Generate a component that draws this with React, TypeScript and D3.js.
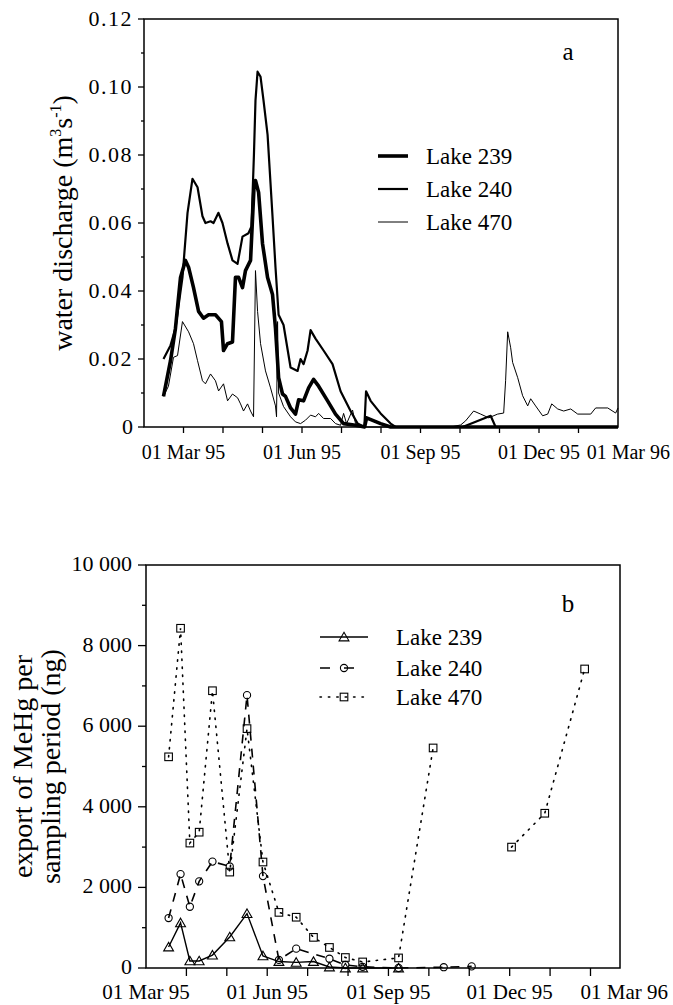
import React from "react";
import * as d3 from "d3";

const FONT = "'Liberation Serif', 'Times New Roman', Times, serif";

// panel a: water discharge, [days since 01 Mar 95, m3/s]
const lake239Q: [number, number][] = [
  [-15.4, 0.009], [-10, 0.0195], [-6.2, 0.029], [-2.3, 0.044], [1.5, 0.049], [3.9, 0.047],
  [7.7, 0.041], [11.6, 0.034], [15.4, 0.032], [19.3, 0.033], [24.6, 0.033], [29.2, 0.031],
  [30.8, 0.0225], [33.9, 0.0245], [37.7, 0.025], [40, 0.044], [42.4, 0.044], [45.4, 0.041],
  [47.7, 0.046], [51.6, 0.049], [54.2, 0.07], [55.4, 0.0725], [57.8, 0.069], [60.8, 0.054],
  [64.7, 0.044], [68.5, 0.039], [70.8, 0.029], [73.2, 0.0145], [76.2, 0.0097], [78.5, 0.009],
  [82.4, 0.0056], [86.2, 0.0038], [88.6, 0.008], [92.4, 0.0077], [96.3, 0.0115], [100.1, 0.014],
  [104, 0.012], [110.9, 0.0077], [117, 0.0038], [123.2, 0.001], [132.4, 0.0005], [139.4, 0],
  [140.9, 0.0027], [151.7, 0.001], [159.4, 0], [334.4, 0],
];

const lake240Q: [number, number][] = [
  [-15.4, 0.02], [-10, 0.024], [-6.2, 0.029], [-0.8, 0.044], [3.1, 0.063], [6.9, 0.073],
  [10.8, 0.0705], [14.6, 0.062], [16.9, 0.06], [20.8, 0.0605], [23.1, 0.06], [26.9, 0.063],
  [30, 0.06], [33.9, 0.054], [37.7, 0.049], [41.6, 0.048], [45.4, 0.056], [50, 0.057],
  [52.3, 0.059], [54.2, 0.08], [55.4, 0.096], [57, 0.1045], [59.3, 0.103], [61.6, 0.096],
  [64.7, 0.086], [68.5, 0.062], [70.8, 0.047], [73.2, 0.033], [77, 0.03], [82.4, 0.0175],
  [87.8, 0.0165], [90.1, 0.02], [92.4, 0.0185], [95.5, 0.0225], [97.8, 0.0285], [101.6, 0.026],
  [107.8, 0.0225], [114.7, 0.0185], [120.9, 0.0105], [128.6, 0.0047], [134, 0.001], [139.2, 0],
  [140.5, 0.0105], [144, 0.0077], [151.7, 0.004], [159.4, 0.001], [163.2, 0], [214.8, 0],
  [236.4, 0.0033], [240.2, 0], [334.4, 0],
];

const lake470Q: [number, number][] = [
  [-15.4, 0.009], [-11.6, 0.012], [-7.7, 0.0205], [-4.6, 0.021], [-0.8, 0.031], [3.9, 0.028],
  [7.7, 0.0245], [10.8, 0.0195], [14.6, 0.0136], [16.9, 0.0127], [20.8, 0.0156], [24.6, 0.0136],
  [27, 0.0106], [30.8, 0.0127], [33.9, 0.0077], [37.7, 0.0097], [41.6, 0.0086], [43.9, 0.0068],
  [46.2, 0.0047], [49.3, 0.0068], [51.6, 0.0047], [53.9, 0.003], [55.4, 0.046], [57, 0.034],
  [59.3, 0.0245], [63.1, 0.0165], [67, 0.0115], [70.8, 0.0062], [71.6, 0.003], [72.4, 0.031],
  [73.2, 0.01], [77, 0.006], [82.4, 0.003], [86.2, 0.0015], [90.1, 0.001], [93.9, 0.002],
  [97.8, 0.0035], [101.6, 0.003], [104, 0.004], [107.8, 0.0025], [113.2, 0.0025], [117, 0.001],
  [120.9, 0.0005], [123.2, 0.004], [125.5, 0.001], [130.1, 0.005], [132.4, 0.001], [137.8, 0],
  [205.6, 0], [213.3, 0.0006], [217.1, 0.0018], [223.3, 0.0047], [228.7, 0.0038], [234.9, 0.0027],
  [241.8, 0.0038], [246.4, 0.0041], [247.9, 0.0136], [249.5, 0.028], [251.8, 0.0233], [253.3, 0.019],
  [257.2, 0.0145], [261, 0.0092], [264.9, 0.0062], [267.2, 0.0083], [271, 0.0062], [276.4, 0.0033],
  [280.3, 0.0038], [283.4, 0.0068], [288, 0.0053], [292.6, 0.0047], [298, 0.0053], [303.4, 0.0038],
  [313.4, 0.0038], [317.2, 0.0056], [326.5, 0.0056], [332.6, 0.0041], [334.4, 0.0056],
];

// panel b: MeHg export per sampling period (ng)
const lake239Days = [17, 26, 33, 40, 50, 63, 76, 88, 100, 113, 126, 138, 150, 163, 190];
const lake239Export = [520, 1120, 175, 175, 320, 770, 1350, 300, 160, 140, 160, 25, 0, 0, 0];

const lake240Days = [17, 26, 33, 40, 50, 63, 76, 88, 100, 113, 138, 150, 163, 190, 224, 245];
const lake240Export = [1240, 2330, 1520, 2150, 2640, 2520, 6770, 2280, 200, 480, 230, 75, 30, 0, 20, 40];

const lake470Days = [17, 26, 33, 40, 50, 63, 76, 88, 100, 113, 126, 138, 150, 163, 190, 216, 245, 275, 300, 330];
const lake470Export = [5240, 8430, 3100, 3370, 6880, 2380, 5940, 2630, 1380, 1260, 760, 510, 260, 150, 250, 5460, null, 3000, 3840, 7420];

const dateLabels = ["01 Mar 95", "01 Jun 95", "01 Sep 95", "01 Dec 95", "01 Mar 96"];
const labelMonths = [0, 3, 6, 9];
const lakeNames = ["Lake 239", "Lake 240", "Lake 470"];

const MONTH = 30.4;

export default function App() {
  const xA = d3.scaleLinear().domain([-MONTH, 11 * MONTH]).range([144, 618]);
  const yA = d3.scaleLinear().domain([0, 0.12]).range([427, 19]);
  const xB = d3.scaleLinear().domain([0, 356.6]).range([146, 620]);
  const yB = d3.scaleLinear().domain([0, 10000]).range([968, 565]);

  const lineA = d3.line<[number, number]>().x(d => xA(d[0])).y(d => yA(d[1]));
  const lineB = d3
    .line<{ d: number; v: number | null }>()
    .defined(p => p.v != null)
    .x(p => xB(p.d))
    .y(p => yB(p.v as number));

  const pts = (days: number[], vals: (number | null)[]) => days.map((d, i) => ({ d, v: vals[i] }));
  const s239 = pts(lake239Days, lake239Export);
  const s240 = pts(lake240Days, lake240Export);
  const s470 = pts(lake470Days, lake470Export);

  const tri = d3.symbol(d3.symbolTriangle, 42)()!;
  const fmtA = (v: number) => (v === 0 ? "0" : d3.format(".2f")(v));
  const fmtB = (v: number) => d3.format(",")(v).replace(",", " ");

  const [a0, a1] = yA.range();
  const [b0, b1] = yB.range();

  const triMark = (x: number, y: number, k: string) => (
    <path key={k} d={tri} transform={`translate(${x},${y + 1})`} fill="none" stroke="#000" strokeWidth={1.1} />
  );
  const circMark = (x: number, y: number, k: string) => (
    <circle key={k} cx={x} cy={y} r={3.6} fill="none" stroke="#000" strokeWidth={1.1} />
  );
  const sqMark = (x: number, y: number, k: string) => (
    <rect key={k} x={x - 3.8} y={y - 3.8} width={7.6} height={7.6} fill="none" stroke="#000" strokeWidth={1.1} />
  );

  return (
    <svg
      width={673}
      height={1005}
      fontFamily={FONT}
      style={{ position: "absolute", left: 0, top: 0, background: "#fff" }}
    >
      {/* ---------- panel a ---------- */}
      <g>
        <rect x={144} y={a1} width={618 - 144} height={a0 - a1} fill="none" stroke="#000" strokeWidth={1.5} />
        {d3.range(0, 11).map(m => (
          <line key={m} x1={xA(m * MONTH)} x2={xA(m * MONTH)} y1={a0} y2={a0 + 6} stroke="#000" strokeWidth={1.3} />
        ))}
        {d3.range(0, 0.1201, 0.01).map((v, i) => (
          <line key={i} x1={144 - (i % 2 === 0 ? 6 : 3)} x2={144} y1={yA(v)} y2={yA(v)} stroke="#000" strokeWidth={1.3} />
        ))}
        {d3.range(0, 0.1201, 0.02).map((v, i) => (
          <text key={i} x={133} y={yA(v) + 7} textAnchor="end" fontSize={22} letterSpacing={v === 0 ? 0 : 1.5}>
            {fmtA(v)}
          </text>
        ))}
        {labelMonths.map((m, i) => (
          <text key={i} x={xA(m * MONTH)} y={459} textAnchor="middle" fontSize={20}>
            {dateLabels[i]}
          </text>
        ))}
        <text x={670} y={459} textAnchor="end" fontSize={20}>{dateLabels[4]}</text>
        <text transform={`translate(72,${(a0 + a1) / 2}) rotate(-90)`} textAnchor="middle" fontSize={28}>
          water discharge (m<tspan fontSize={16} dy={-11}>3</tspan>
          <tspan dy={11}>s</tspan>
          <tspan fontSize={16} dy={-11}>-1</tspan>
          <tspan dy={11}>)</tspan>
        </text>
        <path d={lineA(lake470Q)!} fill="none" stroke="#000" strokeWidth={1} strokeLinejoin="round" />
        <path d={lineA(lake240Q)!} fill="none" stroke="#000" strokeWidth={2.2} strokeLinejoin="round" />
        <path d={lineA(lake239Q)!} fill="none" stroke="#000" strokeWidth={3.6} strokeLinejoin="round" />
        <text x={568} y={60} textAnchor="middle" fontSize={25}>a</text>
        {lakeNames.map((n, i) => {
          const y = 156 + i * 33;
          return (
            <g key={n}>
              <line x1={378} x2={408} y1={y} y2={y} stroke="#000" strokeWidth={[3.6, 2.2, 1][i]} />
              <text x={426} y={y + 8} fontSize={23}>{n}</text>
            </g>
          );
        })}
      </g>

      {/* ---------- panel b ---------- */}
      <g>
        <rect x={146} y={b1} width={620 - 146} height={b0 - b1} fill="none" stroke="#000" strokeWidth={1.5} />
        {d3.range(1, 12).map(m => (
          <line key={m} x1={xB(m * MONTH)} x2={xB(m * MONTH)} y1={b0} y2={b0 + 8} stroke="#000" strokeWidth={1.3} />
        ))}
        {d3.range(0, 10001, 1000).map((v, i) => (
          <line key={i} x1={146 - (i % 2 === 0 ? 8 : 4)} x2={146} y1={yB(v)} y2={yB(v)} stroke="#000" strokeWidth={1.3} />
        ))}
        {d3.range(0, 10001, 2000).map((v, i) => (
          <text key={i} x={132} y={yB(v) + 6} textAnchor="end" fontSize={22}>{fmtB(v)}</text>
        ))}
        {labelMonths.map((m, i) => (
          <text key={i} x={xB(m * MONTH)} y={999} textAnchor="middle" fontSize={21}>
            {dateLabels[i]}
          </text>
        ))}
        <text x={668} y={999} textAnchor="end" fontSize={21}>{dateLabels[4]}</text>
        <text transform={`translate(32,${(b0 + b1) / 2}) rotate(-90)`} textAnchor="middle" fontSize={28}>
          export of MeHg per
        </text>
        <text transform={`translate(60,${(b0 + b1) / 2}) rotate(-90)`} textAnchor="middle" fontSize={28}>
          sampling period (ng)
        </text>

        <path d={lineB(s470)!} fill="none" stroke="#000" strokeWidth={1.6} strokeDasharray="1.4 6.6" strokeLinecap="round" />
        <path d={lineB(s240)!} fill="none" stroke="#000" strokeWidth={1.6} strokeDasharray="9 8" />
        <path d={lineB(s239)!} fill="none" stroke="#000" strokeWidth={1.4} />
        {s470.filter(p => p.v != null).map((p, i) => sqMark(xB(p.d), yB(p.v as number), "s" + i))}
        {s240.map((p, i) => circMark(xB(p.d), yB(p.v as number), "c" + i))}
        {s239.map((p, i) => triMark(xB(p.d), yB(p.v as number), "t" + i))}

        <text x={568} y={612} textAnchor="middle" fontSize={25}>b</text>
        {lakeNames.map((n, i) => {
          const y = [637, 668, 697][i];
          return (
            <g key={n}>
              <line
                x1={320}
                x2={368}
                y1={y}
                y2={y}
                stroke="#000"
                strokeWidth={[1.4, 1.6, 1.6][i]}
                strokeDasharray={["", "10 14", "1.4 7"][i]}
                strokeLinecap={i === 2 ? "round" : "butt"}
              />
              {i === 0 && triMark(344, y, "lt")}
              {i === 1 && circMark(344, y, "lc")}
              {i === 2 && sqMark(344, y, "ls")}
              <text x={396} y={y + 8} fontSize={23}>{n}</text>
            </g>
          );
        })}
      </g>
    </svg>
  );
}
